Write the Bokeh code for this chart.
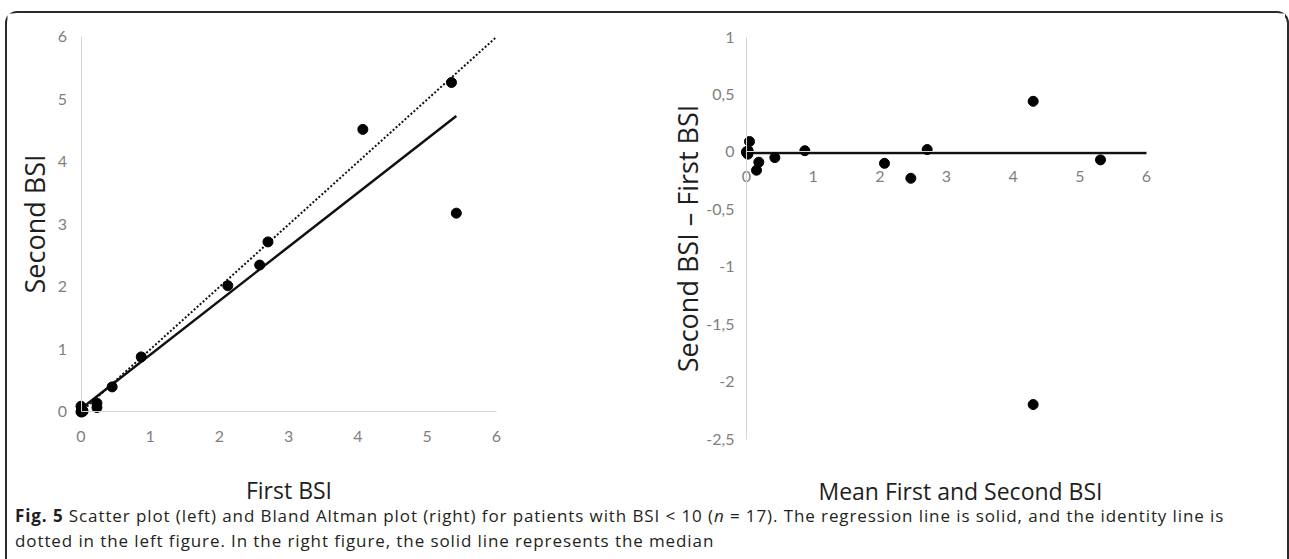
import numpy as np
from bokeh.plotting import figure
from bokeh.models import Range1d, FixedTicker, Div, LinearAxis
from bokeh.layouts import row, column
from bokeh.embed import file_html
from bokeh.resources import INLINE

# ---- data ----
first_bsi = [0.00, 0.00, 0.01, 0.01, 0.03, 0.02, 0.02, 0.23, 0.23, 0.45, 0.87, 2.12, 2.58, 2.70, 4.07, 5.35, 5.42]
second_bsi = [0.09, 0.00, 0.00, 0.01, 0.01, 0.02, 0.03, 0.14, 0.07, 0.40, 0.88, 2.02, 2.35, 2.72, 4.52, 5.27, 3.18]

ba_mean = [0.045, 0.00, 0.005, 0.01, 0.02, 0.02, 0.025, 0.185, 0.15, 0.425, 0.875, 2.07, 2.465, 2.71, 4.30, 5.31, 4.30]
ba_diff = [0.09, 0.00, -0.01, 0.00, -0.02, 0.00, 0.01, -0.09, -0.16, -0.05, 0.01, -0.10, -0.23, 0.02, 0.44, -0.07, -2.20]

left_ticks = [0, 1, 2, 3, 4, 5, 6]
left_tick_labels = ["0", "1", "2", "3", "4", "5", "6"]
right_x_ticks = [0, 1, 2, 3, 4, 5, 6]
right_x_labels = ["0", "1", "2", "3", "4", "5", "6"]
right_y_ticks = [-2.5, -2, -1.5, -1, -0.5, 0, 0.5, 1]
right_y_labels = ["-2,5", "-2", "-1,5", "-1", "-0,5", "0", "0,5", "1"]

axis_span = [0, 6]
right_y_span = [-2.5, 1]

# derived lines
slope, intercept = np.polyfit(first_bsi, second_bsi, 1)
reg_x = [min(first_bsi), max(first_bsi)]
reg_y = [intercept + slope * v for v in reg_x]
median_diff = float(np.median(ba_diff))

# ---- layout constants (pixels) ----
LEFT_W, RIGHT_W, FIG_H = 633, 645, 497
TICK_FONT = "Lato"
TITLE_FONT = "Open Sans"
TICK_SIZE = "16px"


def style_axis(ax, ticks, labels, bounds, label_text, label_size, label_standoff, tick_standoff):
    ax.ticker = FixedTicker(ticks=ticks)
    ax.major_label_overrides = {t: l for t, l in zip(ticks, labels)}
    ax.fixed_location = 0
    ax.bounds = tuple(bounds)
    ax.axis_line_color = "#d4d4d4"
    ax.axis_line_width = 1
    ax.major_tick_line_color = None
    ax.minor_tick_line_color = None
    ax.major_tick_out = 0
    ax.major_tick_in = 0
    ax.minor_tick_out = 0
    ax.minor_tick_in = 0
    ax.major_label_standoff = tick_standoff
    ax.major_label_text_font = TICK_FONT
    ax.major_label_text_font_size = TICK_SIZE
    ax.major_label_text_color = "#7f7f7f"
    ax.axis_label = label_text
    ax.axis_label_standoff = label_standoff
    ax.axis_label_text_font = TITLE_FONT
    ax.axis_label_text_font_size = label_size
    ax.axis_label_text_font_style = "normal"
    ax.axis_label_text_color = "#1e1e1e"


def base_fig(w, xr, yr):
    p = figure(width=w, height=FIG_H, x_range=xr, y_range=yr,
               min_border_left=0, min_border_right=0, min_border_top=0, min_border_bottom=0,
               output_backend="svg", toolbar_location=None)
    p.grid.visible = False
    p.outline_line_color = None
    return p


# ---- left: scatter ----
# value 0 at x=73.5px, 6 at 489px ; value 6 at y=23.4px, 0 at 398.4px (from top)
lx = 73.5, 489.0
ly = 398.4, 23.4
sx = (lx[1] - lx[0]) / 6
sy = (ly[0] - ly[1]) / 6
p1 = base_fig(LEFT_W,
              Range1d(-lx[0] / sx, (LEFT_W - lx[0]) / sx),
              Range1d(-(FIG_H - ly[0]) / sy, ly[0] / sy))
style_axis(p1.xaxis[0], left_ticks, left_tick_labels, axis_span, "First BSI", "23px", 29, 19)
style_axis(p1.yaxis[0], left_ticks, left_tick_labels, axis_span, "Second BSI", "27px", 2, 14)

p1.line(axis_span, axis_span, line_color="#111111", line_width=2, line_dash="2 2")
p1.line(reg_x, reg_y, line_color="#111111", line_width=2.5)
p1.scatter(first_bsi, second_bsi, size=10, color="black")

# ---- right: Bland Altman ----
# value 0 at x=106px, 6 at 506px ; value 1 at y=23.5px, -2.5 at 425.5px (from top)
rx = 106.0, 506.0
ry_top, ry_bot = 23.5, 425.5
rsx = (rx[1] - rx[0]) / 6
rsy = (ry_bot - ry_top) / 3.5
p2 = base_fig(RIGHT_W,
              Range1d(-rx[0] / rsx, (RIGHT_W - rx[0]) / rsx),
              Range1d(-2.5 - (FIG_H - ry_bot) / rsy, 1 + ry_top / rsy))
style_axis(p2.xaxis[0], right_x_ticks, right_x_labels, axis_span, "", "23px", 0, 19)
style_axis(p2.yaxis[0], right_y_ticks, right_y_labels, right_y_span,
           "Second BSI \u2013 First BSI", "27px", -3, 12)

# axis title of the Bland Altman x axis, sitting at the bottom of the panel
title_axis = LinearAxis(ticker=FixedTicker(ticks=[]), fixed_location=0, bounds=(0.42, 6.0),
                        axis_line_color=None, major_tick_line_color=None, minor_tick_line_color=None,
                        major_tick_out=0, major_tick_in=0, minor_tick_out=0, minor_tick_in=0,
                        axis_label="Mean First and Second BSI", axis_label_standoff=323,
                        axis_label_text_font=TITLE_FONT, axis_label_text_font_size="23px",
                        axis_label_text_font_style="normal", axis_label_text_color="#1e1e1e")
p2.add_layout(title_axis, "below")

p2.line(axis_span, [median_diff, median_diff], line_color="#111111", line_width=2.5)
p2.scatter(ba_mean, ba_diff, size=10, color="black")

caption_html = (
    '<div style="font-family: \'Open Sans\', sans-serif; font-size: 17px; letter-spacing: 0.9px; '
    'line-height: 25px; color: #231f20; margin-top: -12px; padding-left: 3px; white-space: nowrap;">'
    '<b>Fig. 5</b> Scatter plot (left) and Bland Altman plot (right) for patients with BSI &lt; 10 '
    '(<i>n</i> = 17). The regression line is solid, and the identity line is<br>'
    'dotted in the left figure. In the right figure, the solid line represents the median</div>'
)
caption = Div(text=caption_html, width=1270, height=44, styles={"overflow": "visible"})

layout = column(row(p1, p2), caption,
                styles={"border": "2px solid #2a2a2a", "border-bottom": "none",
                        "border-radius": "12px 12px 0 0", "margin-top": "11px",
                        "margin-left": "5px", "background-color": "white"})

open("out.html", "w").write(file_html(layout, INLINE))
